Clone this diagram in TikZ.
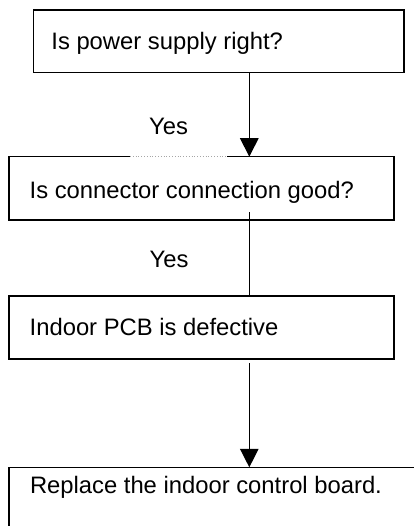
\documentclass[tikz,border=0pt]{standalone}
\usepackage{fontspec}
\setmainfont{Liberation Sans}
\usetikzlibrary{arrows.meta,calc}
\begin{document}
\begin{tikzpicture}[x=1pt,y=-1pt,
  box/.style={draw=black, line width=1.3pt, anchor=north west, inner sep=0pt, outer sep=0pt},
  txt/.style={anchor=base west, inner sep=0pt, font=\fontsize{23.8}{28}\selectfont},
  conn/.style={draw=black, line width=1.3pt},
  arr/.style={conn, -{Triangle[width=18.5pt,length=18.5pt]}}]
\useasboundingbox (0,0) rectangle (413,526);
\coordinate (ax) at (249.3,0);
% boxes
\node[box, minimum width=370.7pt, minimum height=62.7pt] (b1) at (33.3,10) {};
\node[box, minimum width=385pt, minimum height=63.3pt] (b2) at (9,156.7) {};
\node[box, minimum width=385pt, minimum height=63pt] (b3) at (9,296) {};
\node[box, minimum width=430pt, minimum height=90pt] (b4) at (9,467.3) {};
% faint segment on top border of box 2
\draw[white, line width=1.7pt] (130,156.7) -- (227,156.7);
\draw[black!35, line width=0.8pt, dotted] (130,156.7) -- (227,156.7);
% texts
\node[txt] (t1) at (51.2,50) {Is power supply right?};
\node[txt] (t2) at (29.5,199) {Is connector connection good?};
\node[txt] (t3) at (29.5,335.3) {Indoor PCB is defective};
\node[txt] (t4) at (29.8,493.3) {Replace the indoor control board.};
\node[txt] (y1) at (149,134.3) {Yes};
\node[txt] (y2) at (149.5,267.3) {Yes};
% connectors
\draw[arr] (b1.south -| ax) -- (b2.north -| ax);
\draw[conn] ($(b2.south -| ax)+(0,-7.7)$) -- (b3.north -| ax);
\draw[arr] ($(b3.south -| ax)+(0,4.3)$) -- (b4.north -| ax);
\end{tikzpicture}
\end{document}
